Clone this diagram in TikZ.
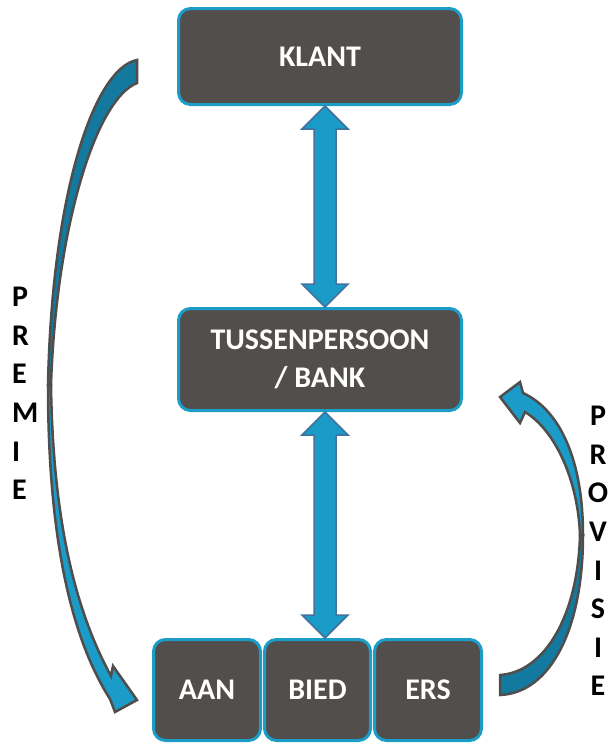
\documentclass[tikz,border=0pt]{standalone}
\usepackage{fontspec}
\setmainfont{Carlito}
\usetikzlibrary{calc}
\definecolor{boxfill}{RGB}{82,78,75}
\definecolor{boxline}{RGB}{27,157,200}
\definecolor{arrfill}{RGB}{27,155,199}
\definecolor{arrline}{RGB}{65,113,156}
\definecolor{bandlight}{RGB}{27,155,199}
\definecolor{banddark}{RGB}{19,121,159}
\definecolor{bandline}{RGB}{80,78,76}
\tikzset{
	box/.style={draw=boxline, fill=boxfill, line width=3pt, rounded corners=12pt, text=white, font=\fontsize{30}{38}\selectfont\bfseries, align=center, inner sep=0pt},
	dblarr/.style={fill=arrfill, draw=arrline, line width=1.5pt, line join=miter},
	band/.style={draw=bandline, line width=2.5pt, line join=miter},
	vtext/.style={font=\fontsize{30}{38.6}\selectfont\bfseries, inner sep=0pt}
}
\def\dblarrow(#1)(#2){\draw[dblarr] (#1) -- ($(#1)+(23,23)$) -- ($(#1)+(11,23)$) -- ($(#2)+(11,-23)$) -- ($(#2)+(23,-23)$) -- (#2) -- ($(#2)+(-23,-23)$) -- ($(#2)+(-11,-23)$) -- ($(#1)+(-11,23)$) -- ($(#1)+(-23,23)$) -- cycle;}

\begin{document}
\begin{tikzpicture}[x=1pt, y=-1pt]
			%%%%% START %%%%%
			\useasboundingbox (0,0) rectangle (611,744);
			
			\node[box, minimum width=283, minimum height=96] (klant) at (320,56.5) {KLANT};
			\node[box, minimum width=283, minimum height=102] (tussen) at (320,359.5) {TUSSENPERSOON\\/ BANK};
			
			\node[box, minimum width=107, minimum height=101] (aan) at (207,690) {AAN};
			\node[box, minimum width=106, minimum height=101] (bied) at (317.5,690) {BIED};
			\node[box, minimum width=107, minimum height=101] (ers) at (428,690) {ERS};
			
			\coordinate (k) at ([xshift=5]klant.south);
			\coordinate (t1) at (tussen.north -| k);
			\coordinate (t2) at (tussen.south -| k);
			\coordinate (b) at (bied.north -| k);
			\dblarrow(k)(t1)
			\dblarrow(t2)(b)
			
			% premie
			\draw[band, fill=banddark] (137,60) .. controls (95,68) and (52,190) .. (48,385) -- (51,385) .. controls (56,230) and (95,100) .. (137,83) -- cycle;
			\draw[band, fill=bandlight] (48,385) .. controls (48,520) and (66,630) .. (110,699) -- (115,712) -- (137,700) -- (113,666) -- (111,676) .. controls (75,610) and (53,520) .. (51,385) -- cycle;
			\node[vtext, anchor=west, align=left] (premie) at (12,393.5) {P\\R\\E\\M\\I\\E};
			
			% provisie
			\draw[band, fill=banddark] (500,695) .. controls (550,693) and (583,630) .. (583,535) -- (580,535) .. controls (578,615) and (545,672) .. (500,675) -- cycle;
			\draw[band, fill=bandlight] (583,535) .. controls (583,460) and (560,410) .. (523,393) -- (520,382) -- (500,397) -- (520,423) -- (525,412) .. controls (555,430) and (578,480) .. (580,535) -- cycle;
			\node[vtext, align=center] (provisie) at (598,551) {P\\R\\O\\V\\I\\S\\I\\E};
			
			%%%%% END %%%%%
\end{tikzpicture}
\end{document}
